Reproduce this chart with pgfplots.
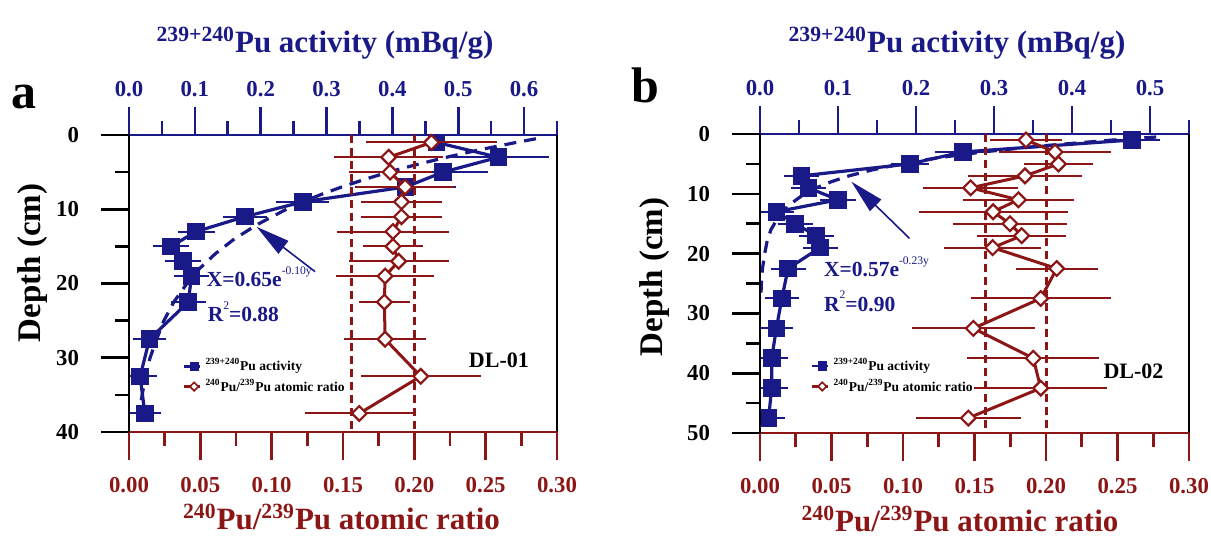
\documentclass[border=0pt]{standalone}
\usepackage{fontspec}
\setmainfont{Liberation Serif}
\usepackage{pgfplots}
\usepackage{pgfplotstable}
\pgfplotsset{compat=1.18}
\usetikzlibrary{arrows.meta}

\definecolor{pblue}{RGB}{25,25,135}
\definecolor{pred}{RGB}{140,22,22}

\newcommand\tickfont{\bfseries\fontsize{11.4}{13}\selectfont}
\newcommand\labfont{\bfseries\fontsize{15.5}{17}\selectfont}
\newcommand\sups[1]{\textsuperscript{#1}}

% depth (cm), activity (mBq/g), error
\pgfplotstableread{
depth act err
1    0.467 0.040
3    0.561 0.058
5    0.477 0.050
7    0.420 0.058
9    0.264 0.022
11   0.176 0.015
13   0.102 0.010
15   0.064 0.009
17   0.082 0.009
19   0.095 0.009
22.5 0.090 0.008
27.5 0.031 0.007
32.5 0.017 0.007
37.5 0.024 0.007
}\actA

\pgfplotstableread{
depth r err
1    0.212  0.037
3    0.182  0.029
5    0.183  0.020
7    0.1935 0.025
9    0.191  0.019
11   0.191  0.019
13   0.185  0.030
15   0.185  0.012
17   0.189  0.026
19   0.1795 0.025
22.5 0.179  0.009
27.5 0.1795 0.0195
32.5 0.2045 0.033
37.5 0.1614 0.029
}\ratA

\pgfplotstableread{
depth act err
1    0.477 0.020
3    0.260 0.020
5    0.192 0.009
7    0.053 0.007
9    0.062 0.007
11   0.100 0.008
13   0.021 0.007
15   0.045 0.007
17   0.072 0.007
19   0.077 0.007
22.5 0.036 0.007
27.5 0.028 0.006
32.5 0.021 0.006
37.5 0.015 0.006
42.5 0.015 0.006
47.5 0.011 0.006
}\actB

\pgfplotstableread{
depth r err
1    0.186  0.016
3    0.2063 0.030
5    0.2087 0.015
7    0.1853 0.031
9    0.1473 0.024
11   0.1807 0.030
13   0.163  0.043
15   0.1748 0.031
17   0.183  0.022
19   0.1627 0.025
22.5 0.2075 0.0196
27.5 0.1963 0.040
32.5 0.1492 0.034
37.5 0.1911 0.037
42.5 0.1963 0.0375
47.5 0.1457 0.0276
}\ratB

\pgfplotsset{
  base/.style={scale only axis, y dir=reverse, xmin=0, ymin=0,
    /pgf/number format/assume math mode=true},
  ticksout/.style={tick align=outside, major tick length=14pt, minor tick length=7pt},
  actaxis/.style={base, axis x line*=top, axis y line*=right, ytick=\empty,
    ticksout,
    x axis line style={pblue, line width=1.4pt},
    y axis line style={black, line width=1.4pt},
    xtick style={pblue, line width=1.3pt},
    xticklabel style={pblue, font=\tickfont, yshift=1.5pt,
      /pgf/number format/fixed, /pgf/number format/fixed zerofill,
      /pgf/number format/precision=1}},
  ratioaxis/.style={base, axis x line*=bottom, axis y line*=left, xmax=0.3,
    ticksout,
    xtick={0,0.05,0.1,0.15,0.2,0.25,0.3},
    minor xtick={0.025,0.075,0.125,0.175,0.225,0.275},
    x axis line style={pred, line width=1.4pt},
    y axis line style={black, line width=1.4pt},
    xtick style={pred, line width=1.3pt},
    ytick style={black, line width=1.3pt},
    xticklabel style={pred, font=\tickfont, yshift=-5pt,
      /pgf/number format/fixed, /pgf/number format/fixed zerofill,
      /pgf/number format/precision=2},
    yticklabel style={black, font=\tickfont, xshift=-7.5pt},
    legend cell align=left,
    legend style={draw=none, fill=none, anchor=north west, inner sep=0pt,
      row sep=-1.5pt, font=\bfseries\fontsize{6.75}{7.5}\selectfont},
    legend image code/.code={\draw[mark repeat=2, mark phase=2, #1]
      plot coordinates {(0pt,0pt) (5pt,0pt) (8pt,0pt)};}},
  actline/.style={pblue, line width=1.6pt, mark=square*, mark size=4pt,
    mark options={solid, fill=pblue, line width=0.8pt},
    error bars/x dir=both, error bars/x explicit,
    error bars/error bar style={pblue, line width=1pt},
    error bars/error mark options={pblue, line width=1pt, mark size=6pt}},
  ratline/.style={pred, line width=1.5pt, mark=square*, mark size=2.6pt,
    mark options={solid, fill=white, rotate=45, line width=1.1pt},
    error bars/x dir=both, error bars/x explicit,
    error bars/error bar style={pred, line width=1pt},
    error bars/error mark options={pred, line width=1pt, mark size=6.5pt}},
  fitline/.style={pblue, line width=1.6pt, dash pattern=on 6pt off 4pt},
  refline/.style={pred, line width=1.5pt, dash pattern=on 4pt off 2.5pt},
}

\begin{document}
\begin{tikzpicture}
\path[use as bounding box] (0,0) rectangle (605.5pt,269pt);

% ---------------- panel a ----------------
\begin{axis}[actaxis, at={(64.5pt,53pt)}, anchor=south west,
  width=214pt, height=148.5pt, xmax=0.65, ymax=40,
  xtick={0,0.1,0.2,0.3,0.4,0.5,0.6},
  minor xtick={0.05,0.15,0.25,0.35,0.45,0.55,0.65}]
\addplot[fitline] coordinates {
  (0.618,0.5) (0.588,1) (0.532,2) (0.482,3) (0.436,4) (0.394,5) (0.357,6)
  (0.323,7) (0.292,8) (0.264,9) (0.239,10) (0.196,12) (0.160,14) (0.131,16)
  (0.107,18) (0.088,20) (0.068,22.5) (0.053,25) (0.042,27.5) (0.032,30)
  (0.025,32.5) (0.020,35) (0.015,37.5)};
\addplot[actline] table[x=act, y=depth, x error=err] {\actA};
\draw[pblue, line width=0.8pt, -{Triangle[length=17pt, width=8pt]}]
  (axis cs:0.2826,18.4) -- (axis cs:0.1936,12.35);
\node[anchor=west, inner sep=0pt, text=pblue, font=\bfseries\fontsize{10.75}{12}\selectfont]
  at (axis cs:0.1176,19.1)
  {X=0.65e\raisebox{1.25ex}{\fontsize{5.8}{6}\selectfont\mdseries -0.10y}};
\node[anchor=west, inner sep=0pt, text=pblue, font=\bfseries\fontsize{10.75}{12}\selectfont]
  at (axis cs:0.119,23.8)
  {R\raisebox{1.25ex}{\fontsize{5.8}{6}\selectfont\mdseries 2}=0.88};
\end{axis}

\begin{axis}[ratioaxis, at={(64.5pt,53pt)}, anchor=south west,
  width=214pt, height=148.5pt, ymax=40,
  ytick={0,10,20,30,40}, minor ytick={5,15,25,35},
  legend style={at={(0.125,0.262)}}]
\addlegendimage{pblue, line width=1.3pt, mark=square*, mark size=1.7pt, mark options={fill=pblue}}
\addlegendentry{\sups{239+240}Pu activity}
\addlegendimage{pred, line width=1.3pt, mark=square*, mark size=1.5pt, mark options={fill=white, rotate=45, line width=0.8pt}}
\addlegendentry{\sups{240}Pu/\sups{239}Pu atomic ratio}
\addplot[forget plot, refline] coordinates {(0.156,0) (0.156,40)};
\addplot[forget plot, refline] coordinates {(0.200,0) (0.200,40)};
\addplot[forget plot, ratline] table[x=r, y=depth, x error=err] {\ratA};
\node[anchor=west, inner sep=0pt, font=\bfseries\fontsize{11}{12}\selectfont]
  at (axis cs:0.238,30.3) {DL-01};
\end{axis}

% ---------------- panel b ----------------
\begin{axis}[actaxis, at={(380pt,52.5pt)}, anchor=south west,
  width=214.5pt, height=149.5pt, xmax=0.55, ymax=50,
  xtick={0,0.1,0.2,0.3,0.4,0.5},
  minor xtick={0.05,0.15,0.25,0.35,0.45,0.55}]
\addplot[fitline] coordinates {
  (0.508,0.5) (0.453,1) (0.360,2) (0.286,3) (0.227,4) (0.181,5) (0.144,6)
  (0.114,7) (0.091,8) (0.072,9) (0.057,10) (0.036,12) (0.023,14) (0.014,16)
  (0.009,18) (0.006,20) (0.0032,22.5) (0.0018,25) (0.001,27.5)};
\addplot[actline] table[x=act, y=depth, x error=err] {\actB};
\draw[pblue, line width=0.8pt, -{Triangle[length=17pt, width=8pt]}]
  (axis cs:0.1916,17.45) -- (axis cs:0.1171,7.97);
\node[anchor=west, inner sep=0pt, text=pblue, font=\bfseries\fontsize{10.75}{12}\selectfont]
  at (axis cs:0.0817,22.2)
  {X=0.57e\raisebox{1.25ex}{\fontsize{5.8}{6}\selectfont\mdseries -0.23y}};
\node[anchor=west, inner sep=0pt, text=pblue, font=\bfseries\fontsize{10.75}{12}\selectfont]
  at (axis cs:0.0817,28.0)
  {R\raisebox{1.25ex}{\fontsize{5.8}{6}\selectfont\mdseries 2}=0.90};
\end{axis}

\begin{axis}[ratioaxis, at={(380pt,52.5pt)}, anchor=south west,
  width=214.5pt, height=149.5pt, ymax=50,
  ytick={0,10,20,30,40,50}, minor ytick={5,15,25,35,45},
  legend style={at={(0.118,0.264)}}]
\addlegendimage{pblue, line width=1.3pt, mark=square*, mark size=1.7pt, mark options={fill=pblue}}
\addlegendentry{\sups{239+240}Pu activity}
\addlegendimage{pred, line width=1.3pt, mark=square*, mark size=1.5pt, mark options={fill=white, rotate=45, line width=0.8pt}}
\addlegendentry{\sups{240}Pu/\sups{239}Pu atomic ratio}
\addplot[forget plot, refline] coordinates {(0.158,0) (0.158,50)};
\addplot[forget plot, refline] coordinates {(0.200,0) (0.200,50)};
\addplot[forget plot, ratline] table[x=r, y=depth, x error=err] {\ratB};
\node[anchor=west, inner sep=0pt, font=\bfseries\fontsize{11}{12}\selectfont]
  at (axis cs:0.240,39.7) {DL-02};
\end{axis}

% ---------------- labels ----------------
\node[font=\bfseries\fontsize{25}{28}\selectfont, inner sep=0pt] at (12pt,220.5pt) {a};
\node[font=\bfseries\fontsize{25}{28}\selectfont, inner sep=0pt] at (322.5pt,226.5pt) {b};
\node[anchor=base, inner sep=0pt, text=pblue, font=\labfont] at (162.5pt,243pt)
  {\sups{239+240}Pu activity (mBq/g)};
\node[anchor=base, inner sep=0pt, text=pblue, font=\labfont] at (478.5pt,243pt)
  {\sups{239+240}Pu activity (mBq/g)};
\node[anchor=base, inner sep=0pt, text=pred, font=\labfont] at (170.75pt,4.5pt)
  {\sups{240}Pu/\sups{239}Pu atomic ratio};
\node[anchor=base, inner sep=0pt, text=pred, font=\labfont] at (480pt,3.5pt)
  {\sups{240}Pu/\sups{239}Pu atomic ratio};
\node[rotate=90, inner sep=0pt, font=\bfseries\fontsize{16.5}{18}\selectfont] at (16.5pt,137.5pt) {Depth (cm)};
\node[rotate=90, inner sep=0pt, font=\bfseries\fontsize{16.5}{18}\selectfont] at (327.5pt,130.5pt) {Depth (cm)};
\end{tikzpicture}
\end{document}
